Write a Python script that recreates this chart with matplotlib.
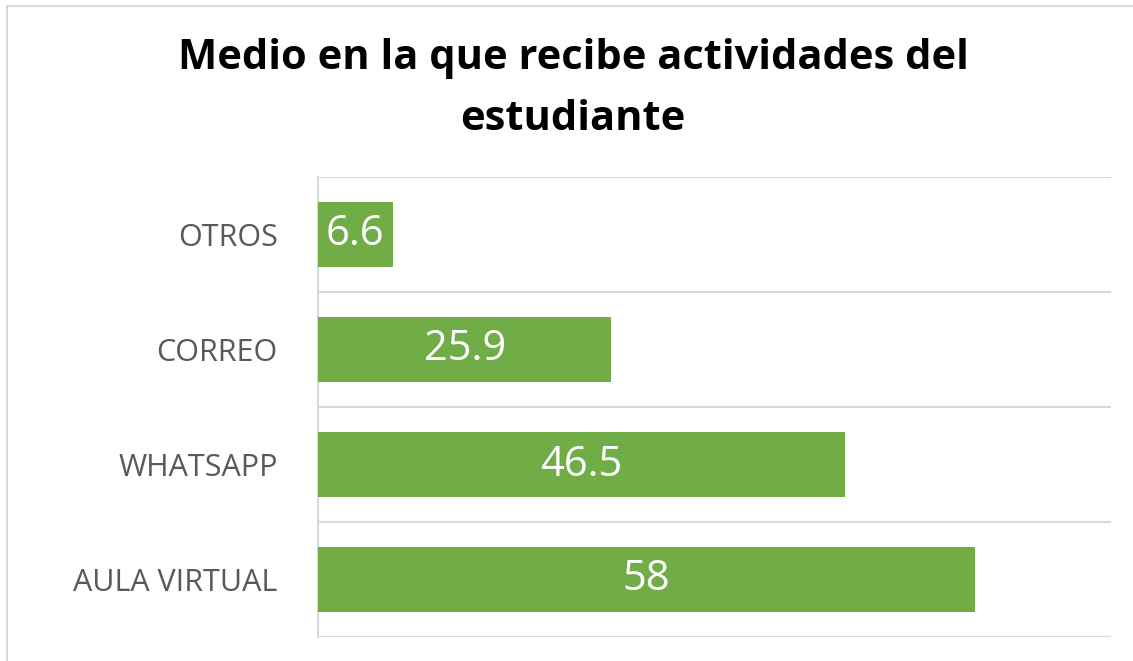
import matplotlib
matplotlib.use("Agg")
import matplotlib.pyplot as plt
from matplotlib.patches import Rectangle

categories = ["AULA VIRTUAL", "WHATSAPP", "CORREO", "OTROS"]
values = [58, 46.5, 25.9, 6.6]
value_labels = ["58", "46.5", "25.9", "6.6"]
title = "Medio en la que recibe actividades del\nestudiante"

GREEN = "#70AD47"
GRID = "#D9D9D9"
LABEL = "#595959"

fig = plt.figure(figsize=(11.33, 6.61), dpi=100)
fig.patch.set_facecolor("white")

# outer chart border (only left/top visible within image)
fig.add_artist(Rectangle((7 / 1133, -0.2), 1.5, 1.2 - 6 / 661,
                         transform=fig.transFigure, fill=False,
                         edgecolor=GRID, linewidth=1.5))

ax = fig.add_axes([318 / 1133, 24 / 661, 793 / 1133, 460 / 661])
y = list(range(len(categories)))
ax.barh(y, values, height=0.557, color=GREEN, zorder=3)
ax.set_xlim(0, 70)
ax.set_ylim(-0.5, len(categories) - 0.5)

for yi, v, lab in zip(y, values, value_labels):
    ax.text(v / 2, yi, lab, ha="center", va="center", color="white",
            fontsize=30, family="Open Sans", zorder=4)

for b in [i - 0.5 for i in range(len(categories) + 1)]:
    ax.axhline(b, color=GRID, linewidth=1.5, zorder=1)

for s in ["top", "right", "bottom"]:
    ax.spines[s].set_visible(False)
ax.spines["left"].set_color(GRID)
ax.spines["left"].set_linewidth(1.5)
ax.set_xticks([])
ax.set_yticks(y)
ax.set_yticklabels(categories, family="Open Sans", fontsize=22, color=LABEL)
ax.tick_params(axis="y", length=0, pad=29)

fig.text(573 / 1133, 1 - 89 / 661, title, ha="center", va="center",
         fontsize=30, fontweight="bold", family="Open Sans", color="black",
         linespacing=1.62)

fig.savefig("out.png", dpi=100)
